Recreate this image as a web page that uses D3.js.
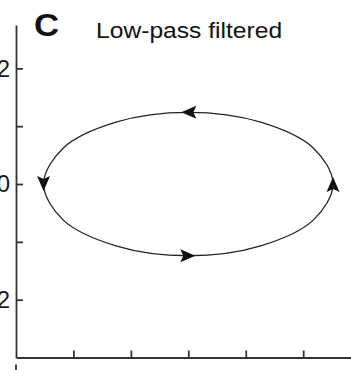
<!DOCTYPE html>
<html>
<head>
<meta charset="utf-8">
<script src="https://cdn.jsdelivr.net/npm/d3@7"></script>
<style>
  body { margin: 0; background: #fff; }
  svg { display: block; }
  .axis path, .axis line { stroke: #333; stroke-width: 1.8; }
  .axis text { font-family: "Liberation Sans", Arial, sans-serif; font-size: 24px; fill: #1a1a1a; }
</style>
</head>
<body>
<div id="chart"></div>
<script>
// trajectory (counter-clockwise)
var trajX = [2.52, 2.18, 1.26, 0, -1.26, -2.18, -2.52, -2.18, -1.26, 0, 1.26, 2.18];
var trajY = [0, 0.62, 1.07, 1.24, 1.07, 0.62, 0, -0.62, -1.07, -1.24, -1.07, -0.62];
var arrowAt = [3, 6, 9, 0];
var xTicks = [-2, -1, 0, 1, 2];
var yTicks = [-2, -1, 0, 1, 2];
var yLabels = ["2", "0", "−2"];

var width = 351, height = 370;

var svg = d3.select('#chart').append('svg')
  .attr('width', width)
  .attr('height', height);

var x = d3.scaleLinear().domain([-3, 2.85]).range([16, 352]);
var y = d3.scaleLinear().domain([-3, 2.75]).range([357.5, 25]);

var yAxis = d3.axisLeft(y)
  .tickValues(yTicks)
  .tickSize(-7)
  .tickSizeOuter(0)
  .tickPadding(6)
  .tickFormat(function (d) {
    if (d === 2) return yLabels[0];
    if (d === 0) return yLabels[1];
    if (d === -2) return yLabels[2];
    return '';
  });

var xAxis = d3.axisBottom(x)
  .tickValues(xTicks)
  .tickSize(-7)
  .tickSizeOuter(0)
  .tickFormat('');

svg.append('g')
  .attr('class', 'axis')
  .attr('transform', 'translate(' + x(-3) + ',0)')
  .call(yAxis);

svg.append('g')
  .attr('class', 'axis')
  .attr('transform', 'translate(0,' + y(-3) + ')')
  .call(xAxis);

// small stub below the origin
svg.append('line')
  .attr('x1', x(-3)).attr('x2', x(-3))
  .attr('y1', y(-3) + 7).attr('y2', height)
  .attr('stroke', '#333').attr('stroke-width', 1.8);

var pts = trajX.map(function (v, i) { return [v, trajY[i]]; });

var line = d3.line()
  .x(function (d) { return x(d[0]); })
  .y(function (d) { return y(d[1]); })
  .curve(d3.curveCatmullRomClosed.alpha(0.5));

svg.append('path')
  .datum(pts)
  .attr('d', line)
  .attr('fill', 'none')
  .attr('stroke', '#222')
  .attr('stroke-width', 1.3);

// arrowheads along the direction of travel
var n = pts.length;
svg.selectAll('.arrow')
  .data(arrowAt)
  .enter()
  .append('path')
  .attr('class', 'arrow')
  .attr('d', 'M7,0 L-8,-6.5 L-5,0 L-8,6.5 Z')
  .attr('fill', '#111')
  .attr('transform', function (i) {
    var a = pts[(i - 1 + n) % n], b = pts[(i + 1) % n];
    var ang = Math.atan2(y(b[1]) - y(a[1]), x(b[0]) - x(a[0])) * 180 / Math.PI;
    return 'translate(' + x(pts[i][0]) + ',' + y(pts[i][1]) + ') rotate(' + ang + ')';
  });

svg.append('text')
  .attr('transform', 'translate(34,36) scale(1.12,1)')
  .style('font-family', '"Liberation Sans", Arial, sans-serif')
  .style('font-weight', 'bold')
  .style('font-size', '31px')
  .attr('fill', '#111')
  .text('C');

svg.append('text')
  .attr('transform', 'translate(96,38) scale(1.12,1)')
  .style('font-family', '"Liberation Sans", Arial, sans-serif')
  .style('font-size', '22px')
  .attr('fill', '#111')
  .text('Low-pass filtered');
</script>
</body>
</html>
